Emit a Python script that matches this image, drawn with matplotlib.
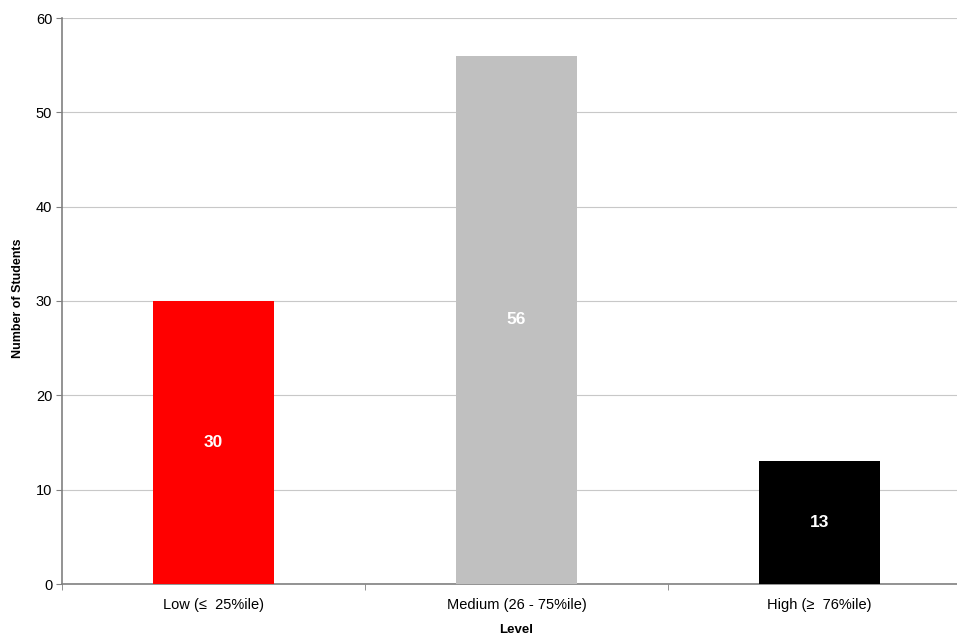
import numpy as np
import matplotlib
matplotlib.use("Agg")
import matplotlib.pyplot as plt

levels = ["Low (\u2264  25%ile)", "Medium (26 - 75%ile)", "High (\u2265  76%ile)"]
students = [30, 56, 13]
colors = ["#ff0000", "#c0c0c0", "#000000"]
yticks = [0, 10, 20, 30, 40, 50, 60]

plt.rcParams['font.family'] = ['Liberation Sans', 'DejaVu Sans']

W, H = 957, 638
fig = plt.figure(figsize=(W / 100, H / 100), dpi=100)
# plot area runs past the right edge of the picture, as in the original
ax = fig.add_axes([62 / W, 1 - 584 / H, (971 - 62) / W, (584 - 18) / H])

x = np.arange(len(levels))
bars = ax.bar(x, students, width=0.4, color=colors, zorder=3)
for b, v in zip(bars, students):
    ax.text(b.get_x() + b.get_width() / 2, v / 2, str(v), ha='center', va='center',
            color='white', fontsize=12.5, fontweight='bold', zorder=4)

ax.set_xlim(-0.5, len(levels) - 0.5)
ax.set_ylim(0, 60)
ax.set_yticks(yticks)
ax.yaxis.grid(True, color='#c8c8c8', linewidth=0.8, zorder=0)
ax.set_xticks(x)
ax.set_xticklabels(levels, fontsize=10.5)
ax.tick_params(axis='x', length=0, pad=10)
ax.set_xticks(np.arange(len(levels) + 1) - 0.5, minor=True)
ax.tick_params(axis='x', which='minor', length=4, color='#808080', direction='out')
ax.tick_params(axis='y', labelsize=10.5, length=4, color='#808080', pad=3)

for s in ['top', 'right']:
    ax.spines[s].set_visible(False)
for s in ['left', 'bottom']:
    ax.spines[s].set_color('#808080')
    ax.spines[s].set_linewidth(1.2)

fig.text(18 / W, 1 - 298 / H, "Number of Students", rotation=90, ha='center', va='center',
         fontsize=9, fontweight='bold')
fig.text(516 / W, 1 - 630 / H, "Level", ha='center', va='center', fontsize=9.5, fontweight='bold')

fig.savefig("out.png", dpi=100, facecolor='white')
